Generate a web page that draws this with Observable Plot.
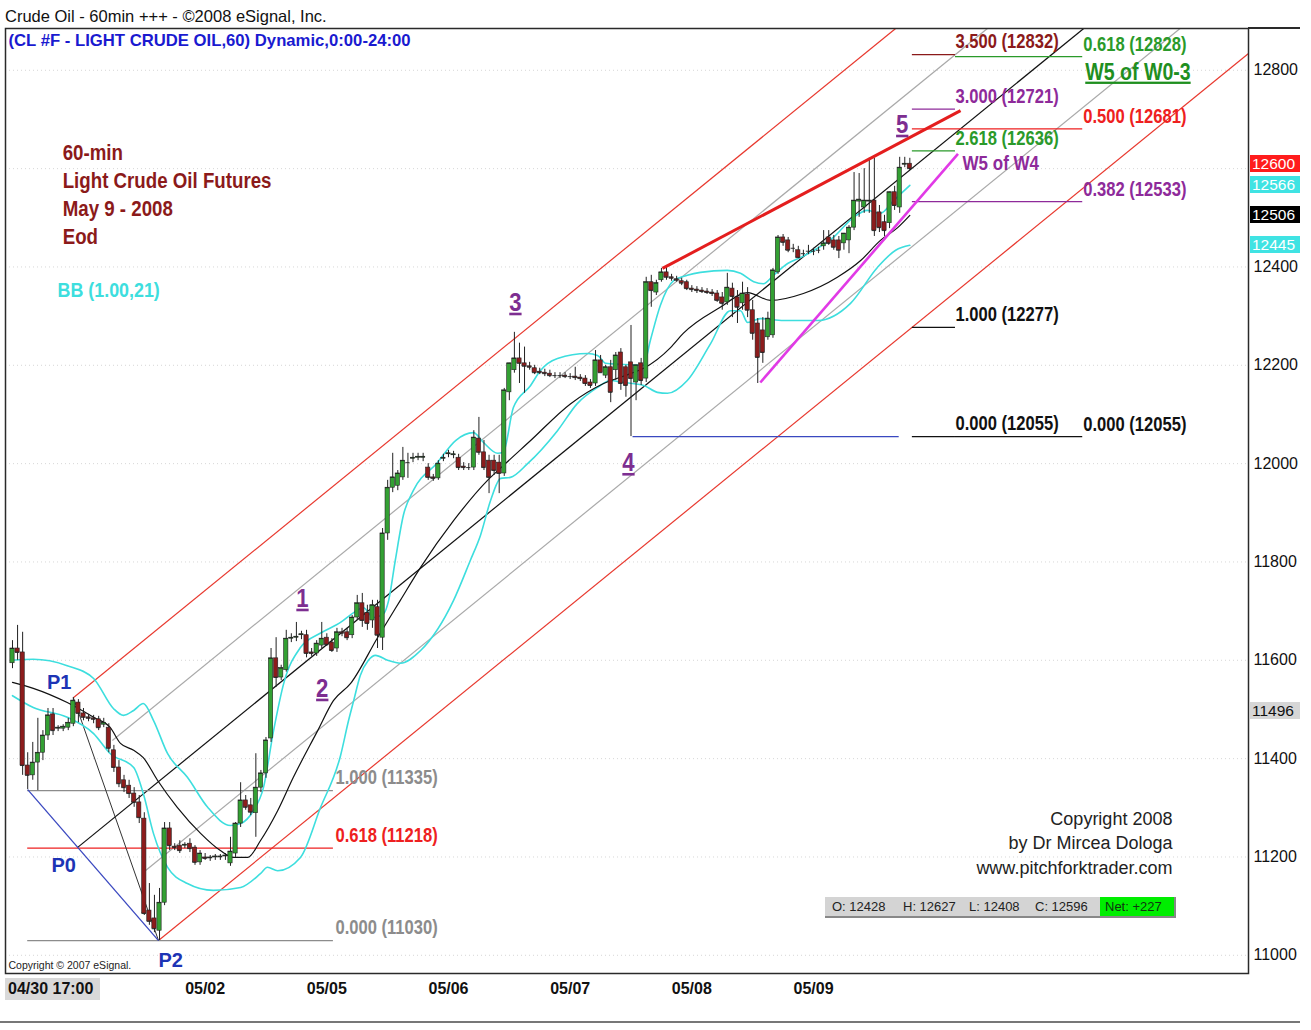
<!DOCTYPE html>
<html><head><meta charset="utf-8">
<script src="https://cdn.jsdelivr.net/npm/d3@7"></script>
<script src="https://cdn.jsdelivr.net/npm/@observablehq/plot@0.6"></script>
<style>
body{margin:0;background:#fff;}
#wrap{position:relative;width:1311px;height:1030px;overflow:hidden;background:#fff;font-family:"Liberation Sans",Arial,sans-serif;}
#chart{position:absolute;left:0;top:0;}
.ov{position:absolute;white-space:nowrap;}
</style></head><body>
<div id="wrap">
<div id="chart"></div>
</div>
<script>
// ---------------- data ----------------
const titleText = "Crude Oil - 60min +++ - ©2008 eSignal, Inc.";
const subtitleText = "(CL #F - LIGHT CRUDE OIL,60) Dynamic,0:00-24:00";

const opens = [11594,11624,11616,11386,11366,11392,11412,11447,11490,11461,
11461,11463,11471,11514,11492,11484,11482,11480,11469,11463,
11417,11382,11356,11345,11329,11311,11278,11091,11075,11050,
11107,11258,11221,11223,11223,11227,11219,11189,11199,11197,
11199,11199,11201,11187,11207,11268,11315,11305,11289,11341,
11370,11441,11604,11565,11580,11644,11646,11651,11651,11616,
11614,11630,11646,11636,11624,11657,11657,11651,11687,11716,
11696,11681,11708,11646,11858,11951,11955,11972,12002,12010,
12012,12012,11992,11972,11970,12010,12019,12017,12012,11994,
11992,11992,12051,12023,12006,12006,12002,11980,12145,12190,
12214,12204,12198,12194,12187,12185,12183,12179,12179,12179,
12177,12177,12175,12173,12165,12163,12210,12179,12196,12190,
12226,12196,12206,12165,12204,12173,12369,12348,12373,12389,
12379,12375,12371,12369,12356,12354,12352,12350,12348,12346,
12338,12328,12356,12338,12326,12344,12312,12285,12271,12257,
12261,12389,12460,12454,12438,12434,12427,12432,12432,12434,
12442,12460,12454,12454,12448,12454,12480,12533,12521,12533,
12535,12511,12491,12489,12552,12521,12608,12610];
const highs = [11640,11671,11657,11412,11433,11482,11457,11502,11502,11467,
11469,11482,11524,11520,11502,11490,11488,11486,11482,11471,
11427,11396,11366,11356,11341,11325,11290,11146,11122,11136,
11270,11270,11227,11233,11229,11237,11223,11213,11207,11203,
11205,11205,11207,11240,11270,11351,11325,11319,11410,11376,
11443,11624,11646,11590,11661,11654,11677,11659,11661,11624,
11640,11677,11654,11644,11665,11665,11665,11691,11732,11736,
11712,11722,11722,11868,11966,12021,11986,12033,12021,12021,
12021,12021,12000,11978,12006,12019,12027,12025,12019,12002,
12000,12067,12094,12047,12017,12017,12017,12153,12159,12267,
12245,12237,12206,12200,12194,12192,12190,12185,12185,12185,
12183,12196,12181,12179,12171,12230,12220,12200,12210,12226,
12234,12200,12281,12194,12214,12379,12383,12373,12397,12399,
12385,12381,12377,12373,12362,12360,12358,12356,12354,12352,
12348,12387,12367,12352,12369,12358,12332,12295,12297,12308,
12397,12464,12466,12460,12446,12442,12434,12444,12438,12440,
12474,12474,12464,12462,12464,12484,12592,12590,12600,12621,
12621,12525,12505,12545,12564,12623,12623,12621];
const lows = [11583,11600,11366,11337,11356,11335,11396,11437,11447,11455,
11455,11457,11465,11473,11477,11475,11471,11457,11463,11412,
11372,11341,11331,11319,11301,11268,11081,11061,11046,11030,
11101,11213,11213,11207,11217,11209,11183,11183,11193,11191,
11193,11193,11193,11181,11199,11260,11295,11284,11240,11331,
11360,11433,11545,11559,11576,11636,11638,11642,11605,11608,
11608,11624,11628,11616,11616,11648,11640,11644,11681,11667,
11661,11665,11624,11620,11844,11941,11945,11966,11970,12002,
12006,12004,11966,11964,11966,12004,12012,12010,11986,11986,
11986,11986,12017,11986,11939,11976,11939,11974,12128,12184,
12163,12143,12190,12181,12181,12177,12175,12173,12173,12173,
12171,12169,12167,12157,12153,12157,12185,12173,12124,12169,
12149,12135,12055,12128,12159,12165,12318,12342,12369,12373,
12371,12369,12362,12352,12348,12346,12346,12344,12340,12328,
12312,12322,12297,12285,12312,12297,12251,12163,12204,12251,
12255,12385,12442,12429,12429,12417,12421,12425,12423,12427,
12434,12444,12434,12417,12434,12427,12474,12501,12509,12509,
12462,12470,12462,12478,12515,12509,12602,12596];
const closes = [11624,11616,11386,11366,11392,11412,11447,11488,11457,11463,
11465,11473,11518,11492,11484,11482,11480,11463,11473,11421,
11382,11349,11341,11329,11311,11280,11085,11069,11054,11107,
11258,11223,11219,11213,11225,11217,11189,11207,11197,11199,
11201,11201,11203,11211,11268,11315,11301,11291,11341,11370,
11437,11604,11565,11584,11644,11646,11648,11653,11614,11614,
11634,11644,11632,11620,11657,11655,11646,11687,11716,11681,
11675,11712,11651,11858,11951,11972,11980,12006,12002,12012,
12014,12014,11972,11970,12000,12012,12021,12019,11992,11992,
11992,12053,12023,11992,11972,11986,11980,12149,12204,12214,
12204,12198,12196,12185,12185,12183,12179,12179,12179,12177,
12177,12175,12173,12163,12159,12210,12185,12196,12145,12220,
12163,12159,12173,12200,12169,12369,12352,12367,12389,12379,
12377,12373,12367,12356,12354,12352,12350,12348,12346,12332,
12326,12358,12340,12318,12346,12312,12265,12216,12226,12295,
12393,12460,12450,12434,12438,12419,12427,12432,12432,12434,
12448,12448,12440,12434,12468,12480,12535,12537,12535,12535,
12474,12480,12474,12552,12525,12602,12610,12600];

// Bollinger Bands (1.00, 21): [bar index, price]
const bbUpper = [[0,11600],[4.1,11602],[10.8,11589],[16,11563],[19.9,11502],[21.9,11488],[23.9,11498],[25.8,11512],[27.8,11478],[30.6,11410],[34.5,11362],[38.5,11301],[43,11264],[45,11268],[47.5,11294],[49.5,11341],[51.5,11457],[53.5,11553],[56.8,11626],[60.7,11655],[64.7,11677],[67.3,11697],[69.2,11707],[71.2,11687],[73.2,11695],[74.2,11722],[75.5,11803],[77.1,11895],[79.1,11946],[83.8,12002],[87.4,12047],[90.9,12063],[92.9,12043],[95.7,12021],[96.8,12023],[98.8,12114],[102.2,12159],[104.1,12189],[107.5,12214],[113.4,12224],[115.4,12220],[117,12204],[119.9,12202],[124.5,12200],[125.8,12250],[127.8,12322],[130.4,12372],[133.1,12383],[135.7,12389],[141,12393],[143.6,12387],[146.2,12370],[148.1,12366],[150.1,12383],[152.9,12407],[155.4,12419],[158.8,12438],[161.9,12460],[165.9,12501],[168.6,12515],[171.2,12509],[173.8,12535],[177,12566]];
const bbMiddle = [[0,11555],[4.1,11543],[10.8,11514],[16,11484],[19.3,11463],[21.3,11431],[23.9,11417],[25.8,11402],[28.6,11356],[32.5,11301],[37.1,11248],[41,11213],[43.6,11199],[46.4,11199],[48.9,11233],[52.3,11294],[55.4,11362],[60.2,11457],[63.3,11518],[66.7,11553],[72,11646],[76.5,11722],[80.5,11789],[87,11884],[93.7,11966],[96.8,11996],[102.2,12047],[110.1,12122],[116.6,12163],[121.9,12183],[124.5,12194],[129.8,12236],[132.3,12265],[139.6,12318],[145,12348],[149.5,12332],[156,12346],[162.7,12379],[167.3,12413],[171.2,12454],[174.6,12480],[177,12505]];
const bbLower = [[0,11528],[4.1,11504],[10.8,11484],[16,11451],[19.3,11410],[23.9,11382],[25.8,11329],[27.8,11248],[30.6,11179],[34.5,11146],[39.6,11132],[45,11138],[48.9,11166],[50.3,11179],[52.3,11172],[56.8,11199],[60.7,11299],[64.7,11406],[66.3,11478],[67.3,11518],[68.6,11569],[70.2,11600],[71.6,11610],[74,11600],[76.5,11594],[80.5,11620],[87,11722],[90.3,11803],[92.3,11854],[94.3,11925],[96.3,11970],[98.2,11972],[101.6,12000],[107.5,12067],[111.4,12122],[115.4,12155],[117.9,12169],[120.5,12165],[124.5,12159],[127.2,12145],[129.2,12143],[133.1,12169],[137.7,12244],[141.6,12311],[143.6,12311],[145,12287],[147.5,12295],[152.1,12291],[158.8,12291],[165.3,12326],[170.6,12399],[174.2,12434],[177,12444]];

// Pitchfork (upper, upper inner, median, lower inner, lower)
const forkStartIdx = [12.0, 19.7, 12.8, 26.2, 28.8];
const forkStartPrice = [11524, 11437, 11219, 11172, 11030];
const forkEndIdx = [174.2, 192.3, 211.3, 230.3, 243.8];
const forkEndPrice = [12885, 12885, 12885, 12885, 12834];
const forkColors = ["#e8382e", "#a9a9a9", "#111111", "#a9a9a9", "#e8382e"];

// other drawn segments: P1-P2, P0-P2, upper trend (red), lower trend (magenta), W4 low
const segStartIdx = [12.0, 3.0, 128.2, 147.5, 122.3];
const segStartPrice = [11524, 11337, 12397, 12165, 12055];
const segEndIdx = [28.8, 28.8, 187.0, 186.5, 174.8];
const segEndPrice = [11030, 11030, 12718, 12630, 12055];
const segColors = ["#333333", "#3a48c0", "#e41e1e", "#e13ae6", "#3a48c0"];
const segWidths = [1, 1.3, 3, 2.6, 1.2];

// Fibonacci levels
const lowFibPrice = [11335, 11218, 11030];
const lowFibText = ["1.000 (11335)", "0.618 (11218)", "0.000 (11030)"];
const lowFibColor = ["#8c8c8c", "#ee2020", "#8c8c8c"];
const lowFibRange = [3.0, 63.3, 63.7]; // from, to, label index

const fibLeftPrice = [12832, 12721, 12636, 12277, 12055];
const fibLeftText = ["3.500 (12832)", "3.000 (12721)", "2.618 (12636)", "1.000 (12277)", "0.000 (12055)"];
const fibLeftColor = ["#8b1a1a", "#8e2a9a", "#2a9a2a", "#111111", "#111111"];
const fibRightPrice = [12828, 12681, 12533, 12055];
const fibRightText = ["0.618 (12828)", "0.500 (12681)", "0.382 (12533)", "0.000 (12055)"];
const fibRightColor = ["#2a9a2a", "#ee2020", "#8e2a9a", "#111111"];
const fibRightFrom = [186, 177.5, 177.5, 186];
const fibCols = [177.5, 186, 211.1, 211.2]; // left start, left label/end, right end, right label

// wave counts & pivots
const waveText = ["1", "2", "3", "4", "5"];
const waveIdx = [57.2, 61.1, 99.2, 121.5, 175.5];
const wavePrice = [11726, 11543, 12328, 12002, 12690];
const pivotText = ["P1", "P0", "P2"];
const pivotIdx = [9.2, 10.1, 31.2];
const pivotPrice = [11555, 11183, 10990];

const noteLines = ["60-min", "Light Crude Oil Futures", "May 9 - 2008", "Eod"];
const notePrice = [12631, 12574, 12517, 12462];
const noteIdx = 9.9;
const bbLabel = {text: "BB (1.00,21)", idx: 8.9, price: 12352};
const w5w4 = {text: "W5 of W4", idx: 187.4, price: 12610};
const w5w03 = {text: "W5 of W0-3", idx: 211.6, price: 12796};
const copyLines = ["Copyright 2008", "by Dr Mircea Dologa", "www.pitchforktrader.com"];
const copyPrice = [11276, 11227, 11178];
const copyIdx = 228.8;

const dayTickIdx = [38, 62, 86, 110, 134, 158];
const dayLabels = ["05/02", "05/05", "05/06", "05/07", "05/08", "05/09"];
const firstLabel = "04/30 17:00";
const yTicks = [11000, 11200, 11400, 11600, 11800, 12000, 12200, 12400, 12600, 12800];

const tagText = ["12600", "12566", "12506", "12445", "11496"];
const tagPrice = [12610, 12566, 12506, 12445, 11496];
const tagBg = ["#ff1c1c", "#3fe3e3", "#000000", "#3fe3e3", "#d6d6d6"];
const tagFg = ["#ffffff", "#ffffff", "#ffffff", "#ffffff", "#111111"];

const ohlcLabels = ["O: 12428", "H: 12627", "L: 12408", "C: 12596"];
const netLabel = "Net: +227";

// ---------------- drawing ----------------
const SANS = '"Liberation Sans",Arial,sans-serif';
const GREEN = "#33a033", RED = "#8c1c1c";
const NARROW_FACTOR = 0.85; // emulate a condensed (Arial Narrow-like) face
const HALF_BODY = 0.42;     // half candle-body width, in bars

const candles = opens.map((o, i) => ({i, o, h: highs[i], l: lows[i], c: closes[i]}));
const forks = d3.range(forkStartIdx.length);
// the last-price tag covers the 12600 axis label, as in the original
const yLabelTicks = yTicks.filter(v => !tagPrice.some(p => Math.abs(p - v) < 15));

const chart = Plot.plot({
  width: 1311, height: 1030,
  marginTop: 28, marginRight: 63, marginBottom: 57, marginLeft: 5,
  style: {background: "transparent", fontFamily: SANS, overflow: "visible"},
  x: {domain: [-1.38, 243.8], axis: null},
  y: {domain: [10963, 12885], axis: null},
  color: {type: "identity"},
  marks: [
    Plot.ruleY(yTicks, {y: d => d, stroke: "#bdbdbd", strokeDasharray: "1,3", strokeOpacity: 0.6}),
    // pitchfork
    Plot.link(forks, {x1: i => forkStartIdx[i], y1: i => forkStartPrice[i], x2: i => forkEndIdx[i], y2: i => forkEndPrice[i], stroke: i => forkColors[i], strokeWidth: 1.2}),
    // fib lines lower left
    Plot.ruleY(lowFibPrice, {y: d => d, x1: lowFibRange[0], x2: lowFibRange[1], stroke: (d, i) => lowFibColor[i], strokeWidth: 1.3}),
    // fib lines upper right
    Plot.ruleY(fibLeftPrice, {y: d => d, x1: fibCols[0], x2: fibCols[1], stroke: (d, i) => fibLeftColor[i], strokeWidth: 1.3}),
    Plot.ruleY(fibRightPrice, {y: d => d, x1: (d, i) => fibRightFrom[i], x2: fibCols[2], stroke: (d, i) => fibRightColor[i], strokeWidth: 1.3}),
    // thin segments
    Plot.link([0, 1, 4], {x1: i => segStartIdx[i], y1: i => segStartPrice[i], x2: i => segEndIdx[i], y2: i => segEndPrice[i], stroke: i => segColors[i], strokeWidth: i => segWidths[i]}),
    // Bollinger
    Plot.line(bbUpper, {x: d => d[0], y: d => d[1], stroke: "#3ddede", strokeWidth: 1.6, curve: "monotone-x"}),
    Plot.line(bbLower, {x: d => d[0], y: d => d[1], stroke: "#3ddede", strokeWidth: 1.6, curve: "monotone-x"}),
    Plot.line(bbMiddle, {x: d => d[0], y: d => d[1], stroke: "#111", strokeWidth: 1.2, curve: "monotone-x"}),
    // candles
    Plot.ruleX(candles, {x: "i", y1: d => Math.min(d.l, d.o, d.c), y2: d => Math.max(d.h, d.o, d.c), stroke: "#222", strokeWidth: 1}),
    Plot.rect(candles.filter(d => d.o !== d.c), {x1: d => d.i - HALF_BODY, x2: d => d.i + HALF_BODY, y1: "o", y2: "c", fill: d => d.c > d.o ? GREEN : RED, stroke: "#222", strokeWidth: 0.6}),
    Plot.ruleY(candles, {y: "c", x1: d => d.i - HALF_BODY, x2: d => d.i + HALF_BODY, stroke: "#222", strokeWidth: 0.9}),
    // thick trend lines
    Plot.link([2, 3], {x1: i => segStartIdx[i], y1: i => segStartPrice[i], x2: i => segEndIdx[i], y2: i => segEndPrice[i], stroke: i => segColors[i], strokeWidth: i => segWidths[i]}),
    // fib labels
    Plot.text(lowFibText, {x: lowFibRange[2], y: (d, i) => lowFibPrice[i], text: d => d, fill: (d, i) => lowFibColor[i], textAnchor: "start", dy: -12.5, fontWeight: "bold", fontSize: 19.5}),
    Plot.text(fibLeftText, {x: fibCols[1], y: (d, i) => fibLeftPrice[i], text: d => d, fill: (d, i) => fibLeftColor[i], textAnchor: "start", dy: -12.5, fontWeight: "bold", fontSize: 19.5}),
    Plot.text(fibRightText, {x: fibCols[3], y: (d, i) => fibRightPrice[i], text: d => d, fill: (d, i) => fibRightColor[i], textAnchor: "start", dy: -12, fontWeight: "bold", fontSize: 19.5}),
    Plot.text([w5w4], {x: "idx", y: "price", text: "text", fill: "#8e2a9a", textAnchor: "start", fontWeight: "bold", fontSize: 20}),
    Plot.text([w5w03], {x: "idx", y: "price", text: "text", fill: "#1f8f1f", textAnchor: "start", fontWeight: "bold", fontSize: 23}),
    // waves & pivots
    Plot.text(waveText, {x: (d, i) => waveIdx[i], y: (d, i) => wavePrice[i], text: d => d, fill: "#7d2e91", fontWeight: "bold", fontSize: 26}),
    Plot.text(pivotText, {x: (d, i) => pivotIdx[i], y: (d, i) => pivotPrice[i], text: d => d, fill: "#1d34b5", fontWeight: "bold", fontSize: 20}),
    // notes
    Plot.text(noteLines, {x: noteIdx, y: (d, i) => notePrice[i], text: d => d, fill: "#8b1a1a", textAnchor: "start", fontWeight: "bold", fontSize: 22}),
    Plot.text([bbLabel], {x: "idx", y: "price", text: "text", fill: "#3ddede", textAnchor: "start", fontWeight: "bold", fontSize: 21}),
    Plot.text(copyLines, {x: copyIdx, y: (d, i) => copyPrice[i], text: d => d, fill: "#222", textAnchor: "end", fontSize: 18}),
    Plot.text([subtitleText], {frameAnchor: "top-left", dx: 3, dy: 12, lineAnchor: "middle", text: d => d, fill: "#1a1ad0", textAnchor: "start", fontWeight: "bold", fontSize: 16.7}),
    Plot.text(["Copyright © 2007 eSignal."], {frameAnchor: "bottom-left", dx: 3, dy: -8, lineAnchor: "middle", text: d => d, fill: "#222", textAnchor: "start", fontSize: 10.5}),
    // axes
    Plot.text(yLabelTicks, {y: d => d, frameAnchor: "right", dx: 5, text: d => String(d), textAnchor: "start", fill: "#111", fontSize: 16}),
    Plot.text(dayLabels, {x: (d, i) => dayTickIdx[i], frameAnchor: "bottom", dy: 15, lineAnchor: "middle", text: d => d, fill: "#111", fontWeight: "bold", fontSize: 16}),
    Plot.frame({stroke: "#2a2a2a", strokeWidth: 1.5})
  ]
});

document.getElementById("chart").appendChild(chart);

// condensed (Arial Narrow-like) annotation texts, and underlined wave labels
const narrowTexts = new Set([...noteLines, bbLabel.text, w5w4.text, w5w03.text, ...lowFibText, ...fibLeftText, ...fibRightText, ...waveText]);
const underlined = new Set([...waveText, w5w03.text]);
d3.select(chart).selectAll("text").each(function () {
  const t = this.textContent;
  if (underlined.has(t)) this.style.textDecoration = "underline";
  if (narrowTexts.has(t)) {
    const len = this.getComputedTextLength();
    if (len > 0) {
      this.setAttribute("textLength", (len * NARROW_FACTOR).toFixed(1));
      this.setAttribute("lengthAdjust", "spacingAndGlyphs");
    }
  }
});

// ---------------- HTML decorations positioned with the plot scales ----------------
const wrap = document.getElementById("wrap");
const ys = chart.scale("y"), xs = chart.scale("x");
function add(html, css) { const d = document.createElement("div"); d.className = "ov"; d.textContent = html; Object.assign(d.style, css); wrap.appendChild(d); return d; }

add(titleText, {left: "5px", top: "6px", fontSize: "16.5px", color: "#111", lineHeight: "20px"});
// top border extension and bottom rule
add("", {left: xs.apply(243.8) + "px", top: "27px", width: "52px", height: "1.5px", background: "#2a2a2a"});
add("", {left: "0px", top: "1021px", width: "1300px", height: "2px", background: "#777"});
// first date label box
add(firstLabel, {left: "5px", top: "978px", width: "95px", height: "22px", lineHeight: "22px", background: "#d9d9d9", fontWeight: "bold", fontSize: "16px", paddingLeft: "3px", boxSizing: "border-box", color: "#111"});
// price tags
tagText.forEach((t, i) => {
  const y = ys.apply(tagPrice[i]);
  add(t, {left: "1250px", top: (y - 8.5) + "px", width: "50px", height: "17px", lineHeight: "17px", background: tagBg[i], color: tagFg[i], fontSize: "15.5px", paddingLeft: "2px", boxSizing: "border-box", overflow: "hidden"});
});
// OHLC box
const box = add("", {left: "825px", top: "897px", width: "351px", height: "21px", background: "#d4d4d4", borderBottom: "2px solid #888", borderRight: "2px solid #888", boxSizing: "border-box"});
const ohlcX = [7, 78, 144, 210];
ohlcLabels.forEach((t, i) => {
  const s = document.createElement("span"); s.textContent = t;
  Object.assign(s.style, {position: "absolute", left: ohlcX[i] + "px", top: "1px", fontSize: "13px", lineHeight: "18px", color: "#222"});
  box.appendChild(s);
});
const net = document.createElement("span"); net.textContent = netLabel;
Object.assign(net.style, {position: "absolute", left: "275px", top: "0px", width: "74px", height: "19px", background: "#00ee00", fontSize: "13px", lineHeight: "19px", paddingLeft: "5px", boxSizing: "border-box", color: "#113311"});
box.appendChild(net);
</script>
</body></html>
